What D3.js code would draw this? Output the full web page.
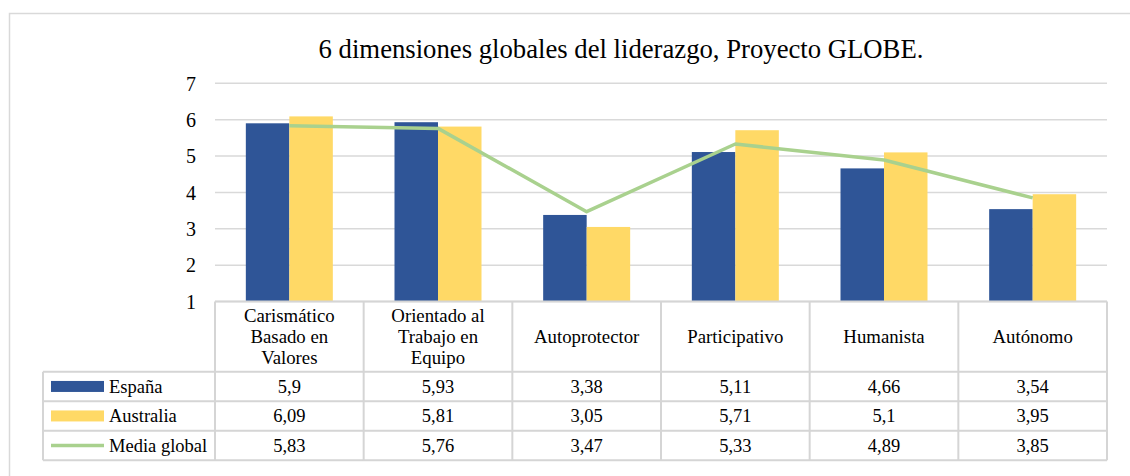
<!DOCTYPE html>
<html>
<head>
<meta charset="utf-8">
<script src="https://cdn.jsdelivr.net/npm/d3@7"></script>
<style>
  body { margin: 0; background: #fff; }
  svg text { font-family: "Liberation Serif", Tinos, "Times New Roman", Times, "DejaVu Serif", serif; fill: #000; }
</style>
</head>
<body>
<div id="chart"></div>
<script>
/*============================
==DATA =======================*/
var categories = [
  ["Carismático", "Basado en", "Valores"],
  ["Orientado al", "Trabajo en", "Equipo"],
  ["Autoprotector"],
  ["Participativo"],
  ["Humanista"],
  ["Autónomo"]
];
var espana = [5.9, 5.93, 3.38, 5.11, 4.66, 3.54];
var australia = [6.09, 5.81, 3.05, 5.71, 5.1, 3.95];
var mediaGlobal = [5.83, 5.76, 3.47, 5.33, 4.89, 3.85];
var seriesNames = ["España", "Australia", "Media global"];
var yTicks = [1, 2, 3, 4, 5, 6, 7];
var title = "6 dimensiones globales del liderazgo, Proyecto GLOBE.";

/*============================
==SVG ========================*/
var svgWidth = 1130;
var svgHeight = 476;
var serif = "'Liberation Serif', Tinos, 'Times New Roman', Times, 'DejaVu Serif', serif";

var colors = { blue: "#2F5597", yellow: "#FFD966", green: "#A9D18E", grid: "#D9D9D9" };

var svg = d3.select("#chart")
  .append("svg")
  .attr("width", svgWidth)
  .attr("height", svgHeight)
  .attr("font-family", serif);

// outer chart frame (left + top edges visible)
svg.append("path")
  .attr("d", "M9.5,480 L9.5,13.5 L1140,13.5")
  .attr("fill", "none")
  .attr("stroke", colors.grid)
  .attr("stroke-width", 1.5);

svg.append("text")
  .attr("x", 621)
  .attr("y", 58)
  .attr("text-anchor", "middle")
  .style("font-size", "26.7px")
  .text(title);

/*============================
==SCALES =====================*/
var plotLeft = 215, plotRight = 1107;
var idx = d3.range(categories.length);

var xScale = d3.scaleBand()
  .domain(idx)
  .range([plotLeft, plotRight])
  .padding(0);

var step = xScale.bandwidth();
var barW = 43.5;

var xInner = d3.scaleBand()
  .domain([0, 1])
  .range([step / 2 - barW, step / 2 + barW]);

var yScale = d3.scaleLinear()
  .domain([1, 7])
  .range([301.5, 83.3]);

// gridlines
svg.append("g")
  .selectAll("line")
  .data(yTicks)
  .enter()
  .append("line")
  .attr("x1", plotLeft)
  .attr("x2", plotRight)
  .attr("y1", d => yScale(d))
  .attr("y2", d => yScale(d))
  .attr("stroke", colors.grid)
  .attr("stroke-width", 1.5);

// y axis labels
var yAxis = d3.axisLeft(yScale)
  .tickValues(yTicks)
  .tickFormat(d3.format("d"))
  .tickSize(0)
  .tickPadding(0);
var yG = svg.append("g")
  .attr("transform", "translate(196,0)")
  .call(yAxis)
  .attr("font-family", serif)
  .attr("font-size", 20);
yG.select(".domain").remove();
yG.selectAll("text")
  .attr("fill", "#000")
  .attr("dy", "0.34em");

/*============================
==BARS + LINE ================*/
var barSeries = [espana, australia];
var barColors = [colors.blue, colors.yellow];

barSeries.forEach(function(vals, s) {
  svg.append("g")
    .selectAll("rect")
    .data(vals)
    .enter()
    .append("rect")
    .attr("x", (d, i) => xScale(i) + xInner(s))
    .attr("width", xInner.bandwidth())
    .attr("y", d => yScale(d))
    .attr("height", d => yScale(1) - yScale(d))
    .attr("fill", barColors[s]);
});

var line = d3.line()
  .x((d, i) => xScale(i) + step / 2)
  .y(d => yScale(d));

svg.append("path")
  .datum(mediaGlobal)
  .attr("d", line)
  .attr("fill", "none")
  .attr("stroke", colors.green)
  .attr("stroke-width", 3.5)
  .attr("stroke-linejoin", "round");

/*============================
==DATA TABLE =================*/
var tableTop = 301.5;
var headerBottom = 371.7;
var rowH = 29.5;
var legendLeft = 43;
var tableStroke = "#D5D5D5";
var tbl = svg.append("g");

// horizontal rules
tbl.append("line")
  .attr("x1", plotLeft).attr("x2", plotRight)
  .attr("y1", tableTop).attr("y2", tableTop)
  .attr("stroke", tableStroke).attr("stroke-width", 2);
[0, 1, 2, 3].forEach(function(r) {
  var y = headerBottom + r * rowH;
  tbl.append("line")
    .attr("x1", legendLeft).attr("x2", plotRight)
    .attr("y1", y).attr("y2", y)
    .attr("stroke", tableStroke).attr("stroke-width", 2);
});

// vertical rules
var tableBottom = headerBottom + 3 * rowH;
tbl.append("line")
  .attr("x1", legendLeft).attr("x2", legendLeft)
  .attr("y1", headerBottom).attr("y2", tableBottom)
  .attr("stroke", tableStroke).attr("stroke-width", 2);
idx.concat([categories.length]).forEach(function(i) {
  var x = i < categories.length ? xScale(i) : plotRight;
  tbl.append("line")
    .attr("x1", x).attr("x2", x)
    .attr("y1", tableTop).attr("y2", tableBottom)
    .attr("stroke", tableStroke).attr("stroke-width", 2);
});

// header labels
categories.forEach(function(lines, i) {
  var cy = (tableTop + headerBottom) / 2;
  var lh = 21.3;
  var t = tbl.append("text")
    .attr("text-anchor", "middle")
    .style("font-size", "18.8px");
  lines.forEach(function(l, k) {
    t.append("tspan")
      .attr("x", xScale(i) + step / 2)
      .attr("y", cy + (k - (lines.length - 1) / 2) * lh)
      .attr("dy", "0.34em")
      .text(l);
  });
});

// value rows
var rows = [espana, australia, mediaGlobal];
var fmt = v => String(v).replace(".", ",");
rows.forEach(function(vals, r) {
  var cy = headerBottom + r * rowH + rowH / 2;
  tbl.append("g")
    .selectAll("text")
    .data(vals)
    .enter()
    .append("text")
    .attr("x", (d, i) => xScale(i) + step / 2)
    .attr("y", cy)
    .attr("dy", "0.34em")
    .attr("text-anchor", "middle")
    .style("font-size", "18.5px")
    .text(fmt);

  // legend key
  if (r < 2) {
    tbl.append("rect")
      .attr("x", 51).attr("y", cy - 5.5)
      .attr("width", 53).attr("height", 11)
      .attr("fill", barColors[r]);
  } else {
    tbl.append("line")
      .attr("x1", 51).attr("x2", 104)
      .attr("y1", cy).attr("y2", cy)
      .attr("stroke", colors.green)
      .attr("stroke-width", 3.5);
  }
  tbl.append("text")
    .attr("x", 109)
    .attr("y", cy)
    .attr("dy", "0.34em")
    .style("font-size", "18.5px")
    .text(seriesNames[r]);
});
</script>
</body>
</html>
